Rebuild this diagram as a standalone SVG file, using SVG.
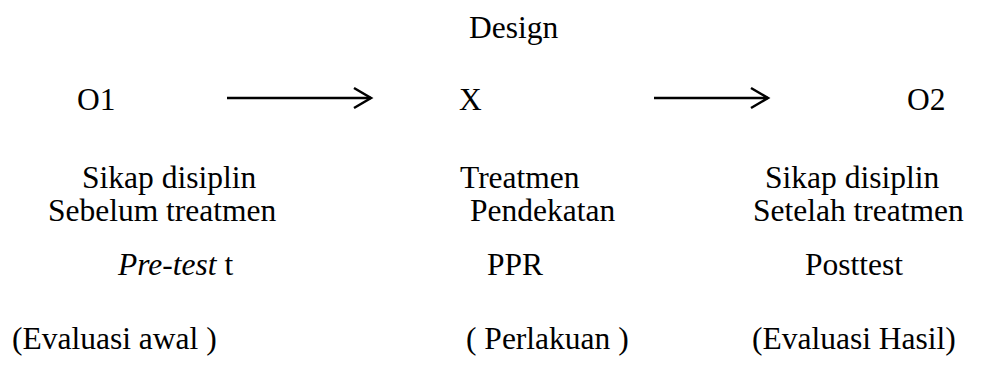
<svg xmlns="http://www.w3.org/2000/svg" width="982" height="373" viewBox="0 0 982 373">
<style>
.c line,.c path{stroke:#000;stroke-width:2.5;fill:none}
</style>
<rect width="982" height="373" fill="#fff"/>
<g font-family="Liberation Serif, Times New Roman, serif" font-size="31.5" fill="#000">
<g id="title"><text x="469" y="38">Design</text></g>
<g id="o1">
<text x="77" y="110">O1</text>
<text x="82" y="188">Sikap disiplin</text>
<text x="48" y="221">Sebelum treatmen</text>
<text x="118" y="275"><tspan font-style="italic">Pre-test</tspan> t</text>
<text x="12" y="349">(Evaluasi awal )</text>
</g>
<g id="x">
<text x="459" y="110">X</text>
<text x="460" y="188">Treatmen</text>
<text x="470" y="221">Pendekatan</text>
<text x="487" y="275">PPR</text>
<text x="466" y="349">( Perlakuan )</text>
</g>
<g id="o2">
<text x="907" y="110">O2</text>
<text x="765" y="188">Sikap disiplin</text>
<text x="753" y="221">Setelah treatmen</text>
<text x="805" y="275">Posttest</text>
<text x="752" y="349">(Evaluasi Hasil)</text>
</g>
</g>
<g class="c" id="connectors">
<line x1="227" y1="98" x2="371" y2="98"/>
<path d="M354 88 L371 98 L354 108"/>
<line x1="654" y1="98" x2="768" y2="98"/>
<path d="M751 88 L768 98 L751 108"/>
</g>
</svg>
